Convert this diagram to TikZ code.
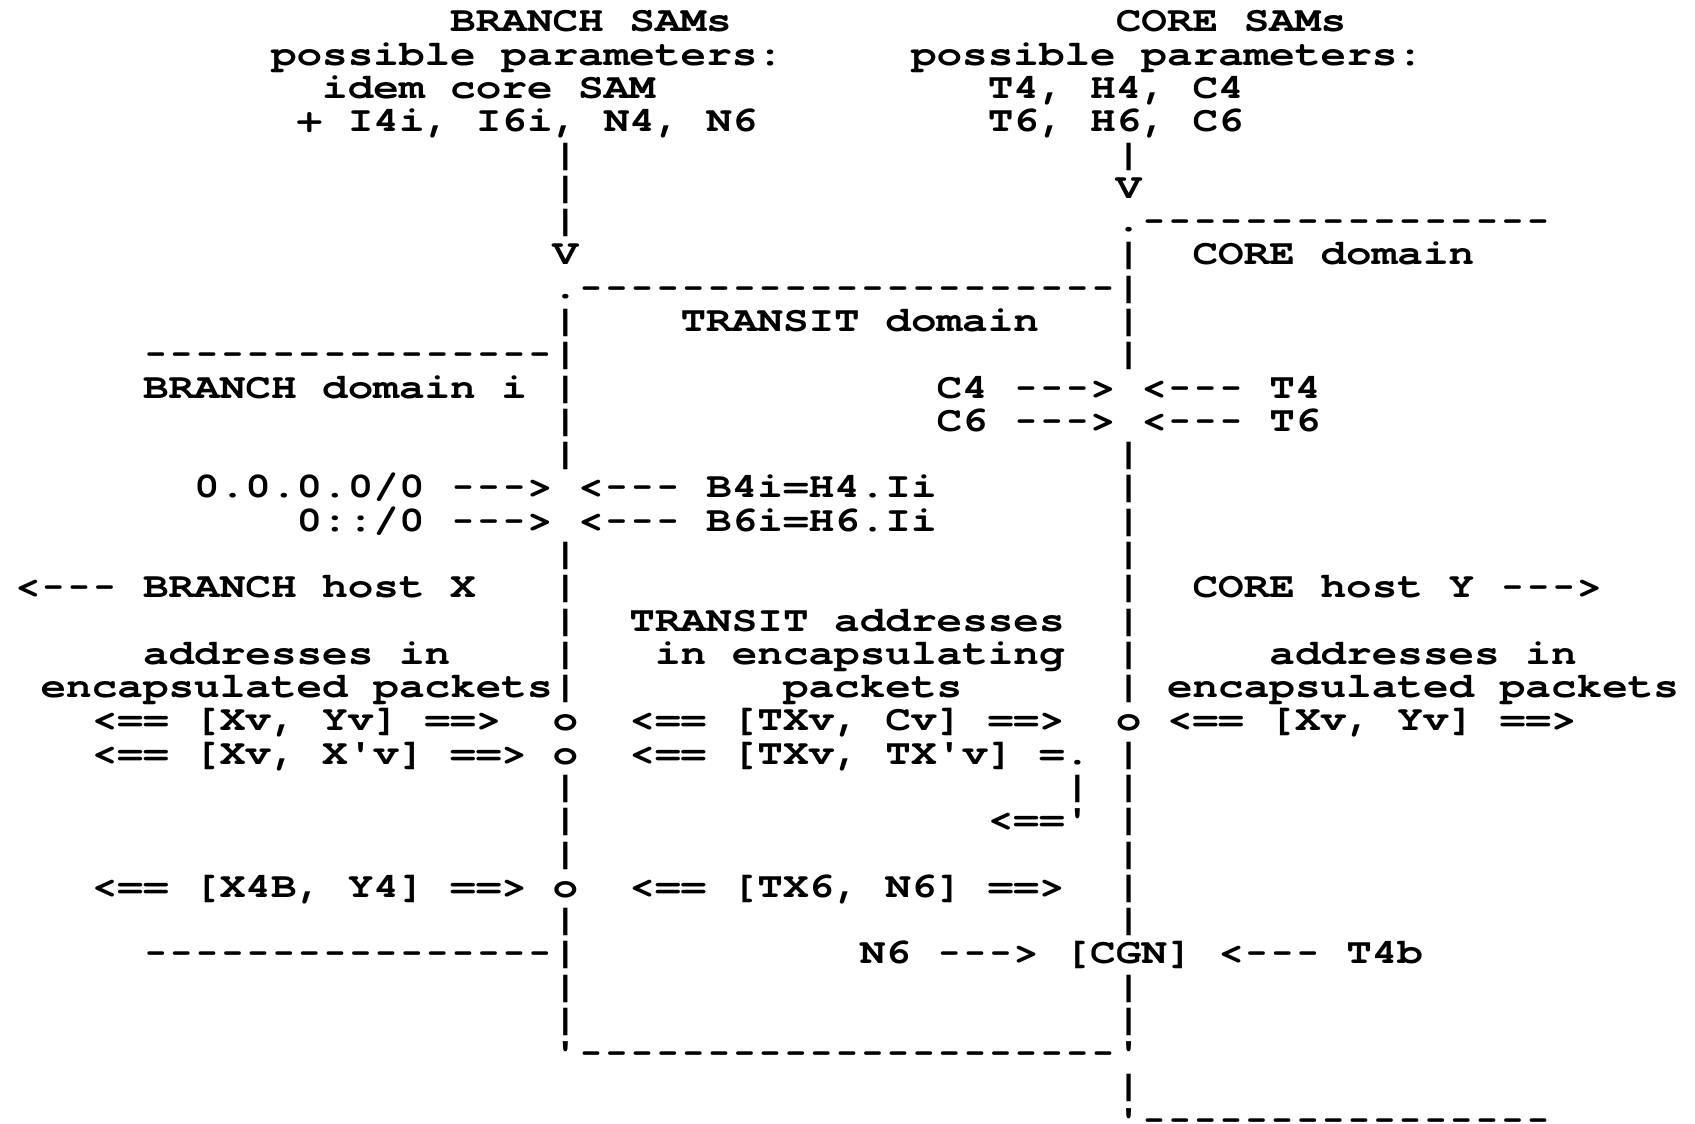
\documentclass[tikz,border=0pt]{standalone}
\usepackage{fontspec}
\usepackage{graphicx}
\setmonofont[FakeStretch=1.2]{TeX Gyre Cursor}
\usetikzlibrary{positioning}
\tikzset{asc/.style={anchor=base west,inner sep=0pt,outer sep=0pt,
  font=\ttfamily\bfseries\fontsize{17.78pt}{20pt}\selectfont}}
\newcommand\T[4]{\node[asc] (#1) at ({7.5pt+#2*12.8pt},{-16pt-#3*16.64pt}) {#4};}
\newcommand\hy{\makebox[12.8pt][c]{\scalebox{0.76}[1]{-}}}
\ExplSyntaxOn
\NewDocumentCommand\dr{m}{\prg_replicate:nn{#1}{\hy}}
\ExplSyntaxOff
\frenchspacing
\begin{document}
\begin{tikzpicture}
\fill[white] (0,0) rectangle (847.5pt,-561.5pt);
\useasboundingbox (0,0) rectangle (847.5pt,-561.5pt);
% row 0-3: SAM headers
\T{bsam}{17}{0}{BRANCH SAMs}
\T{csam}{43}{0}{CORE SAMs}
\T{bpp}{10}{1}{possible parameters:}
\T{cpp}{35}{1}{possible parameters:}
\T{bidem}{12}{2}{idem core SAM}
\T{cta}{38}{2}{T4, H4, C4}
\T{bplus}{11}{3}{+ I4i, I6i, N4, N6}
\T{ctb}{38}{3}{T6, H6, C6}
% rows 4-9
\T{l4}{21}{4}{|}
\T{r4}{43}{4}{|}
\T{l5}{21}{5}{|}
\T{r5}{43}{5}{V}
\T{l6}{21}{6}{|}
\T{r6}{43}{6}{.\dr{16}}
\T{l7}{21}{7}{V}
\T{r7}{43}{7}{|}
\T{cdom}{46}{7}{CORE domain}
\T{l8}{21}{8}{.\dr{21}|}
\T{l9}{21}{9}{|}
\T{tdom}{26}{9}{TRANSIT domain}
\T{r9}{43}{9}{|}
% rows 10-16
\T{l10}{5}{10}{\dr{16}|}
\T{r10}{43}{10}{|}
\T{bdom}{5}{11}{BRANCH domain i}
\T{l11}{21}{11}{|}
\T{c4}{36}{11}{C4 \dr{3}> <\dr{3} T4}
\T{l12}{21}{12}{|}
\T{c6}{36}{12}{C6 \dr{3}> <\dr{3} T6}
\T{l13}{21}{13}{|}
\T{r13}{43}{13}{|}
\T{b4}{7}{14}{0.0.0.0/0 \dr{3}> <\dr{3} B4i=H4.Ii}
\T{r14}{43}{14}{|}
\T{b6}{11}{15}{0::/0 \dr{3}> <\dr{3} B6i=H6.Ii}
\T{r15}{43}{15}{|}
\T{l16}{21}{16}{|}
\T{r16}{43}{16}{|}
% rows 17-22
\T{bhost}{0}{17}{<\dr{3} BRANCH host X}
\T{l17}{21}{17}{|}
\T{r17}{43}{17}{|}
\T{chost}{46}{17}{CORE host Y \dr{3}>}
\T{l18}{21}{18}{|}
\T{taddr}{24}{18}{TRANSIT addresses}
\T{r18}{43}{18}{|}
\T{baddr}{5}{19}{addresses in}
\T{l19}{21}{19}{|}
\T{tenc}{25}{19}{in encapsulating}
\T{r19}{43}{19}{|}
\T{caddr}{49}{19}{addresses in}
\T{benc}{1}{20}{encapsulated packets|}
\T{tpk}{30}{20}{packets}
\T{r20}{43}{20}{|}
\T{cenc}{45}{20}{encapsulated packets}
\T{bxy}{3}{21}{<== [Xv, Yv] ==>}
\T{o21}{21}{21}{o}
\T{ttc}{24}{21}{<== [TXv, Cv] ==>}
\T{p21}{43}{21}{o}
\T{cxy}{45}{21}{<== [Xv, Yv] ==>}
\T{bxx}{3}{22}{<== [Xv, X'v] ==> o}
\T{ttt}{24}{22}{<== [TXv, TX'v] =.}
\T{r22}{43}{22}{|}
% rows 23-33
\T{l23}{21}{23}{|}
\T{m23}{41}{23}{|}
\T{r23}{43}{23}{|}
\T{l24}{21}{24}{|}
\T{m24}{38}{24}{<=='}
\T{r24}{43}{24}{|}
\T{l25}{21}{25}{|}
\T{r25}{43}{25}{|}
\T{bx4}{3}{26}{<== [X4B, Y4] ==> o}
\T{tx6}{24}{26}{<== [TX6, N6] ==>}
\T{r26}{43}{26}{|}
\T{l27}{21}{27}{|}
\T{r27}{43}{27}{|}
\T{l28}{5}{28}{\dr{16}|}
\T{cgn}{33}{28}{N6 \dr{3}> [CGN] <\dr{3} T4b}
\T{l29}{21}{29}{|}
\T{r29}{43}{29}{|}
\T{l30}{21}{30}{|}
\T{r30}{43}{30}{|}
\T{l31}{21}{31}{'\dr{21}'}
\T{r32}{43}{32}{|}
\T{r33}{43}{33}{'\dr{16}}
\end{tikzpicture}
\end{document}
